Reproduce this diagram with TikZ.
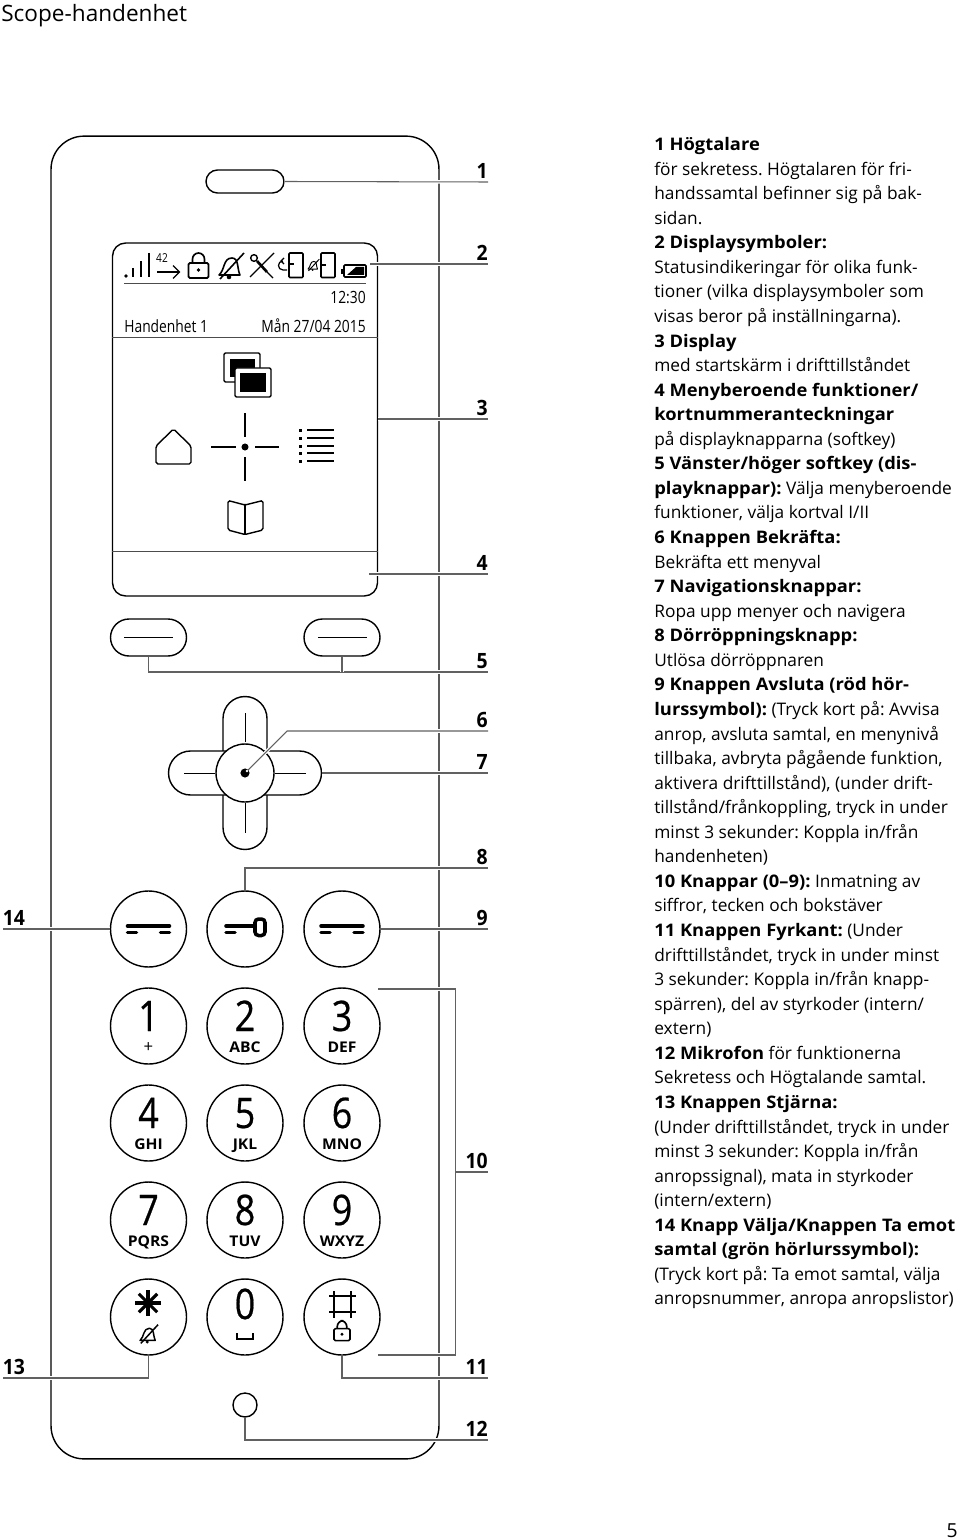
\documentclass[tikz,border=0pt]{standalone}
\usepackage{fontspec}
\setmainfont{Open Sans}[BoldFeatures={FakeStretch=1.06}]
\newfontfamily\narrowfont{Open Sans}[FakeStretch=0.82]
\newfontfamily\labelfont{Open Sans}[FakeStretch=0.92]
\newfontfamily\keyfont{Open Sans}[FakeStretch=0.85,FakeBold=0.5]
\usetikzlibrary{arrows,positioning,calc,shapes}
\newcommand{\pxfont}[2]{\fontsize{#1}{#2}\selectfont}
% bell with a slash, in its own little grid
\newcommand{\mutebell}[3]{
  \begin{scope}[shift={(#1)},scale=#2,line width=#3]
    \draw[line join=round] (-11,9) .. controls (-5,4) and (-7,-8) .. (2,-8)
      .. controls (9,-8) and (7,3) .. (10,9) -- cycle;
    \fill (-1,11) circle (1.3pt);
    \draw (-10,13) -- (14,-13);
  \end{scope}
}
\newcommand{\padlock}[2]{
  \begin{scope}[shift={(#1)},scale=#2,line width=0.95pt]
    \draw[rounded corners=0.8pt] (-10,-3) rectangle (10,12);
    \draw[rounded corners=3.5pt] (-6,-3) -- (-6,-13) -- (6,-13) -- (6,-3);
    \fill (0,4) circle (1.1pt);
  \end{scope}
}
\newcommand{\handset}[1]{
  \draw[hook] ($(#1)+(-21,-3)$) -- ($(#1)+(21,-3)$);
  \draw[hook] ($(#1)+(-21,3.5)$) -- ($(#1)+(-12,3.5)$);
  \draw[hook] ($(#1)+(12,3.5)$) -- ($(#1)+(21,3.5)$);
}

\begin{document}
\frenchspacing
\begin{tikzpicture}[
  x=0.02cm, y=-0.02cm,
  body/.style={draw, line width=0.8pt},
  keybtn/.style={body, circle, inner sep=0, minimum size=1.52cm},
  softbtn/.style={body, rounded rectangle, inner sep=0, minimum width=1.52cm, minimum height=0.74cm},
  navbtn/.style={body, rounded rectangle, inner sep=0, fill=white, minimum width=3.06cm, minimum height=0.88cm},
  callout/.style={draw=black!62, line width=0.6pt, preaction={draw=white, line width=2pt}},
  numlabel/.style={anchor=south east, inner sep=0, yshift=1.6pt, font=\labelfont\bfseries\pxfont{12}{14}},
  thin/.style={line width=0.55pt},
  hook/.style={line width=2pt, line cap=round},
  disptext/.style={inner sep=0, font=\narrowfont\pxfont{9.6}{11}},
  keydigit/.style={inner sep=0, anchor=base, font=\keyfont\pxfont{24}{26}},
  keyletters/.style={inner sep=0, anchor=base, font=\bfseries\pxfont{8.4}{10}}
]
\useasboundingbox (0,0) rectangle (960,1540);

% Title and page number
\node[anchor=base west, inner sep=0, font=\pxfont{12.85}{15}] (title) at (1,22) {Scope-handenhet};
\node[anchor=base east, inner sep=0, font=\pxfont{11}{13}] (page) at (958,1537) {5};

% Housing
\node[body, rectangle, rounded corners=0.66cm, inner sep=0, minimum width=7.76cm, minimum height=26.46cm] (housing) at (245,797.5) {};
\node[body, rounded rectangle, inner sep=0, minimum width=1.56cm, minimum height=0.46cm] (speaker) at (245,181.5) {};

% Display
\node[body, rectangle, rounded corners=0.26cm, inner sep=0, minimum width=5.3cm, minimum height=7.06cm] (display) at (245,419.5) {};
\draw[draw=black!70, thin] (124,283) -- (366,283);
\draw[draw=black!70, thin] (display.west |- 0,337) -- (display.east |- 0,337);
\draw[draw=black!70, thin] (display.west |- 0,551) -- (display.east |- 0,551);
\node[disptext, anchor=base east] (clock) at (366,304) {12:30};
\node[disptext, anchor=base west] (handset) at (124,333) {Handenhet 1};
\node[disptext, anchor=base east] (date) at (366,333) {Mån 27/04 2015};

% Status symbols
\foreach \x/\y in {133/268, 141/261, 149/253} {
  \draw[line width=1.1pt] (\x,\y) -- (\x,277.5);
}
\fill (126,276) circle (1.1pt);
\node[inner sep=0, font=\narrowfont\pxfont{7}{8}] (calls) at (162,258) {42};
\draw[line width=0.7pt] (157,272) -- (179,272);
\draw[line width=0.7pt] (173,265.5) -- (179.5,272) -- (173,278.5);
\padlock{198.5,266}{1}
\mutebell{230,266}{1}{0.9pt}
\draw[line width=0.8pt] (254,258) circle (1.9pt);
\draw[line width=1.5pt] (257,261) -- (267,272);
\draw[line width=0.7pt] (267,272) -- (273,278);
\draw[line width=0.8pt] (274,253) -- (250,277);
\draw[line width=0.9pt, rounded corners=0.5pt] (289,253) rectangle (303,277.5);
\draw[line width=0.8pt] (289,264) -- (294,264);
\draw[line width=0.7pt] (287,270) -- (283,270) .. controls (277,270) and (277,261) .. (283,261);
\draw[line width=0.7pt] (284,258) -- (281,261) -- (284,264);
\draw[line width=0.9pt, rounded corners=0.5pt] (321,253) rectangle (335,277.5);
\draw[line width=0.8pt] (321,265) -- (326,265);
\mutebell{313,265}{0.45}{0.55pt}
\draw[line width=0.9pt, rounded corners=0.5pt] (344,265) rectangle (366,277);
\draw[line width=0.9pt] (342,269) -- (342,274);
\fill (347,275) -- (364,275) -- (364,267) -- (356,267) -- cycle;

% Menu symbols
\draw[body, rounded corners=0.8pt] (224,353) rectangle (260,382);
\fill (230,359) rectangle (255,377);
\draw[body, fill=white, rounded corners=0.8pt] (235,368) rectangle (271,397);
\fill (240,373) rectangle (266,392);
\draw[line width=0.8pt] (245,413) -- (245,437);
\draw[line width=0.8pt] (245,457) -- (245,481);
\draw[line width=0.8pt] (211,447) -- (236,447);
\draw[line width=0.8pt] (255,447) -- (279,447);
\fill (245,447) circle (2pt);
\draw[line width=0.8pt, rounded corners=1pt] (156,446) -- (173.5,429) -- (191,446) -- (191,464) -- (156,464) -- cycle;
\foreach \y in {430,438,446,453,461} {
  \fill (298.5,\y-1.5) rectangle (301.5,\y+1.5);
  \draw[line width=0.7pt] (307,\y) -- (334,\y);
}
\draw[line width=0.8pt, rounded corners=1pt] (245,505) -- (228,500.5) -- (228,530) -- (245,534.5) -- (263,530) -- (263,500.5) -- cycle;
\draw[line width=0.8pt] (245,505) -- (245,534.5);

% Softkeys
\node[softbtn] (softleft) at (148.5,637.5) {};
\node[softbtn] (softright) at (342,637.5) {};
\draw[thin] (124,637) -- (173,637);
\draw[thin] (318,637) -- (367,637);

% Navigation keys
\node[navbtn, rotate=90] (navvert) at (245,773) {};
\node[navbtn] (navhoriz) at (245,773) {};
\node[body, circle, fill=white, inner sep=0, minimum size=1.16cm] (confirm) at (245,773) {};
\draw[thin] (245,713) -- (245,742);
\draw[thin] (245,803) -- (245,833);
\draw[thin] (184,773) -- (215,773);
\draw[thin] (275,773) -- (306,773);

% Call keys
\node[keybtn] (accept) at (148.5,929) {};
\node[keybtn] (door) at (245,929) {};
\node[keybtn] (hangup) at (342,929) {};
\handset{accept.center}
\handset{hangup.center}
\draw[hook] (226,926) -- (254,926);
\draw[hook] (226,932.5) -- (235,932.5);
\draw[line width=2pt, rounded corners=2pt] (255,919) rectangle (265,935.5);

% Keypad
\foreach \name/\x/\y/\digit/\letters in {
  k1/148.5/1026/1/{\mdseries\pxfont{9.5}{10}+}, k2/245/1026/2/ABC, k3/342/1026/3/DEF,
  k4/148.5/1123/4/GHI, k5/245/1123/5/JKL, k6/342/1123/6/MNO,
  k7/148.5/1220/7/PQRS, k8/245/1220/8/TUV, k9/342/1220/9/WXYZ} {
  \node[keybtn] (\name) at (\x,\y) {};
  \node[keydigit] (\name d) at (\x,\y+5) {\digit};
  \node[keyletters] (\name l) at (\x,\y+26.5) {\letters};
}
\node[keybtn] (kstar) at (148.5,1317) {};
\node[keybtn] (k0) at (245,1317) {};
\node[keybtn] (khash) at (342,1317) {};
\foreach \a in {0,45,90,135} {
  \draw[line width=1.8pt] ($(148,1303)+(\a:13)$) -- ($(148,1303)+(\a+180:13)$);
}
\mutebell{148,1334}{0.72}{0.85pt}
\node[keydigit] (k0d) at (245,1319) {0};
\draw[line width=0.9pt] (237,1333) -- (237,1339) -- (253,1339) -- (253,1333);
\draw[line width=1.6pt] (334,1291) -- (334,1318);
\draw[line width=1.6pt] (351,1291) -- (351,1318);
\draw[line width=1.6pt] (329,1296) -- (356,1296);
\draw[line width=1.6pt] (329,1312) -- (356,1312);
\padlock{342,1331}{0.8}

% Microphone
\node[body, circle, inner sep=0, minimum size=0.48cm] (mic) at (245,1405) {};

% Callout ends and numbers
\foreach \n/\y in {1/182, 2/264, 3/419, 4/574, 5/672, 6/731, 7/773, 8/868, 9/929, 10/1172, 11/1378, 12/1440} {
  \coordinate (c\n) at (488,\y);
  \node[numlabel] (num\n) at (c\n) {\n};
}
\coordinate (c13) at (2.5,1378);
\coordinate (c14) at (2.5,929);
\node[numlabel, anchor=south west] (num13) at (c13) {13};
\node[numlabel, anchor=south west] (num14) at (c14) {14};
\coordinate (bracktop) at (378,989);
\coordinate (brackbot) at (378,1355);
\coordinate (brackmid) at (455.5,1172);

% Connectors
\draw[callout] (speaker.east) -- (c1);
\draw[callout] (370,264) -- (c2);
\draw[callout] (display.east |- c3) -- (c3);
\draw[callout] (369,574) -- (c4);
\draw[callout] (softleft.south) |- (c5);
\draw[callout] (softright.south) -- (softright.south |- c5);
\draw[callout] (confirm.center) -- (287,731) -- (c6);
\draw[callout] (navhoriz.east) -- (c7);
\draw[callout] (door.north) |- (c8);
\draw[callout] (hangup.east) -- (c9);
\draw[callout] (bracktop) -| (brackmid) |- (brackbot);
\draw[callout] (brackmid) -- (c10);
\draw[callout] (khash.south) |- (c11);
\draw[callout] (mic.south) |- (c12);
\draw[callout] (kstar.south) |- (c13);
\draw[callout] (accept.west) -- (c14);
\fill (245,773) circle (2.6pt);
\fill[white] (247,771) circle (0.8pt);

% Legend
\node[anchor=north west, inner sep=0, align=left, font=\pxfont{9.85}{13.98}] (legend) at (654,137) {%
\textbf{1 Högtalare}\\
för sekretess. Högtalaren för fri-\\
handssamtal befinner sig på bak-\\
sidan.\\
\textbf{2 Displaysymboler:}\\
Statusindikeringar för olika funk-\\
tioner (vilka displaysymboler som\\
visas beror på inställningarna).\\
\textbf{3 Display}\\
med startskärm i drifttillståndet\\
\textbf{4 Menyberoende funktioner/}\\
\textbf{kortnummeranteckningar}\\
på displayknapparna (softkey)\\
\textbf{5 Vänster/höger softkey (dis-}\\
\textbf{playknappar):} Välja menyberoende\\
funktioner, välja kortval I/II\\
\textbf{6 Knappen Bekräfta:}\\
Bekräfta ett menyval\\
\textbf{7 Navigationsknappar:}\\
Ropa upp menyer och navigera\\
\textbf{8 Dörröppningsknapp:}\\
Utlösa dörröppnaren\\
\textbf{9 Knappen Avsluta (röd hör-}\\
\textbf{lurssymbol):} (Tryck kort på: Avvisa\\
anrop, avsluta samtal, en menynivå\\
tillbaka, avbryta pågående funktion,\\
aktivera drifttillstånd), (under drift-\\
tillstånd/frånkoppling, tryck in under\\
minst 3 sekunder: Koppla in/från\\
handenheten)\\
\textbf{10 Knappar (0–9):} Inmatning av\\
siffror, tecken och bokstäver\\
\textbf{11 Knappen Fyrkant:} (Under\\
drifttillståndet, tryck in under minst\\
3 sekunder: Koppla in/från knapp-\\
spärren), del av styrkoder (intern/\\
extern)\\
\textbf{12 Mikrofon} för funktionerna\\
Sekretess och Högtalande samtal.\\
\textbf{13 Knappen Stjärna:}\\
(Under drifttillståndet, tryck in under\\
minst 3 sekunder: Koppla in/från\\
anropssignal), mata in styrkoder\\
(intern/extern)\\
\textbf{14 Knapp Välja/Knappen Ta emot}\\
\textbf{samtal (grön hörlurssymbol):}\\
(Tryck kort på: Ta emot samtal, välja\\
anropsnummer, anropa anropslistor)
};

\end{tikzpicture}
\end{document}
